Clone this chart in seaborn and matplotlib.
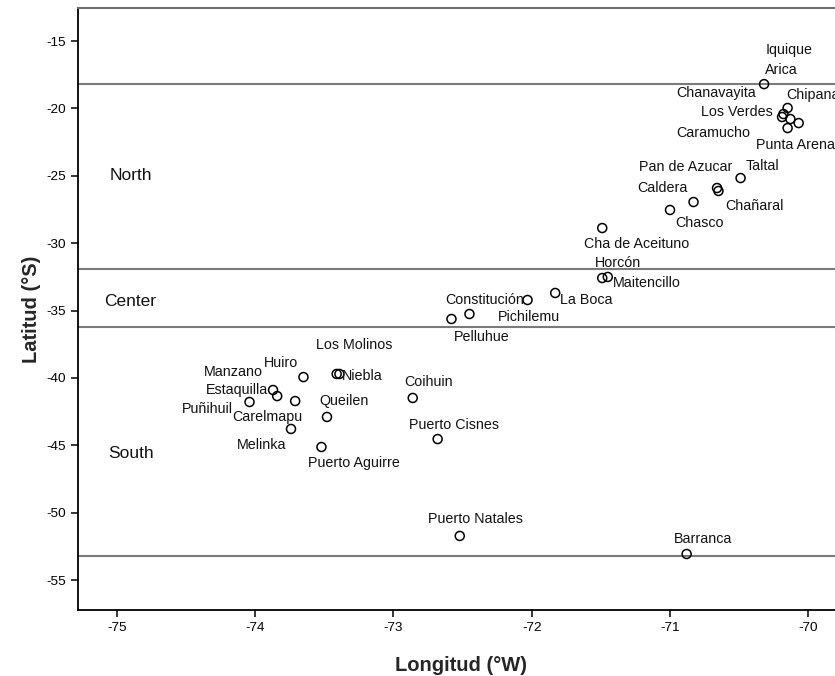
import matplotlib
matplotlib.use("Agg")
import matplotlib.pyplot as plt
import seaborn as sns
import pandas as pd

# ---- data ----
sites = ["Arica", "Chipana", "Chanavayita", "Los Verdes", "Iquique", "Punta Arenas",
         "Caramucho", "Taltal", "Pan de Azucar", "Chañaral", "Caldera", "Chasco",
         "Cha de Aceituno", "Horcón", "Maitencillo", "La Boca", "Constitución",
         "Pichilemu", "Pelluhue", "Huiro", "Los Molinos", "Niebla", "Manzano",
         "Estaquilla", "Puñihuil", "Carelmapu", "Queilen", "Coihuin", "Melinka",
         "Puerto Aguirre", "Puerto Cisnes", "Puerto Natales", "Barranca"]
longitude = [-70.32, -70.15, -70.18, -70.19, -70.13, -70.07,
             -70.15, -70.49, -70.66, -70.65, -70.83, -71.00,
             -71.49, -71.49, -71.45, -71.83, -72.03,
             -72.45, -72.58, -73.65, -73.41, -73.39, -73.87,
             -73.84, -74.04, -73.71, -73.48, -72.86, -73.74,
             -73.52, -72.68, -72.52, -70.88]
latitude = [-18.2, -19.97, -20.42, -20.64, -20.79, -21.09,
            -21.46, -25.17, -25.91, -26.13, -26.95, -27.54,
            -28.88, -32.59, -32.51, -33.70, -34.22,
            -35.26, -35.63, -39.94, -39.71, -39.71, -40.90,
            -41.35, -41.79, -41.72, -42.90, -41.49, -43.79,
            -45.13, -44.54, -51.73, -53.07]
region_names = ["North", "Center", "South"]
region_lat = [-25.0, -34.3, -45.6]
boundaries = [-18.2, -31.94, -36.2, -53.2]
x_ticks = [-75, -74, -73, -72, -71, -70]
y_ticks = [-15, -20, -25, -30, -35, -40, -45, -50, -55]

# label offsets (pixels) - layout only
label_offsets = [(17, 14), (25, 13), (-67, 21), (-45, 5), (-1, 69), (0, -22),
                 (-74, -5), (22, 12), (-31, 21), (36, -15), (-31, 14), (29, -13),
                 (34, -16), (16, 15), (39, -6), (31, -7), (-43, 0),
                 (59, -3), (30, -18), (-22, 14), (18, 29), (23, -2), (-40, 18),
                 (-40, 6), (-42, -7), (-28, -16), (17, 16), (16, 16), (-29, -16),
                 (32, -16), (16, 14), (16, 17), (16, 15)]

df = pd.DataFrame({"site": sites, "lon": longitude, "lat": latitude})

sns.set_style("ticks")
plt.rcParams["font.family"] = ["Liberation Sans", "DejaVu Sans"]

W, H = 835, 676
fig = plt.figure(figsize=(W / 100, H / 100), dpi=100)
ax = fig.add_axes([78 / W, 66 / H, (845 - 78) / W, (610 - 8) / H])

for b in boundaries:
    ax.axhline(b, color="#7a7a7a", lw=1.5, zorder=1)

sns.scatterplot(data=df, x="lon", y="lat", ax=ax, s=42, marker="o",
                facecolor="none", edgecolor="black", linewidth=1.1, zorder=3)

for name, xv, yv, (dx, dy) in zip(sites, longitude, latitude, label_offsets):
    ax.annotate(name, (xv, yv), xytext=(dx, dy), textcoords="offset pixels",
                ha="center", va="center", fontsize=10.3, color="#111111")

for rn, ry in zip(region_names, region_lat):
    ax.text(-74.9, ry, rn, ha="center", va="center", fontsize=12.5, color="#111111")

ax.set_xlim(-75.28, -69.735)
ax.set_ylim(-57.226, -12.551)
ax.set_xticks(x_ticks)
ax.set_xticklabels([str(t) for t in x_ticks])
ax.set_yticks(y_ticks)
ax.set_yticklabels([str(t) for t in y_ticks])
ax.tick_params(axis="both", labelsize=9.7, colors="black", width=1.1, length=5, direction="out")

for s in ["left", "bottom"]:
    ax.spines[s].set_color("black")
    ax.spines[s].set_linewidth(1.3)
ax.spines["top"].set_visible(True)
ax.spines["top"].set_color("#6e6e6e")
ax.spines["top"].set_linewidth(1.5)
ax.spines["right"].set_visible(False)

ax.set_xlabel("Longitud (°W)", fontsize=14.5, fontweight="bold", labelpad=16)
ax.set_ylabel("Latitud (°S)", fontsize=14.5, fontweight="bold", labelpad=4)

fig.savefig("out.png", dpi=100)
